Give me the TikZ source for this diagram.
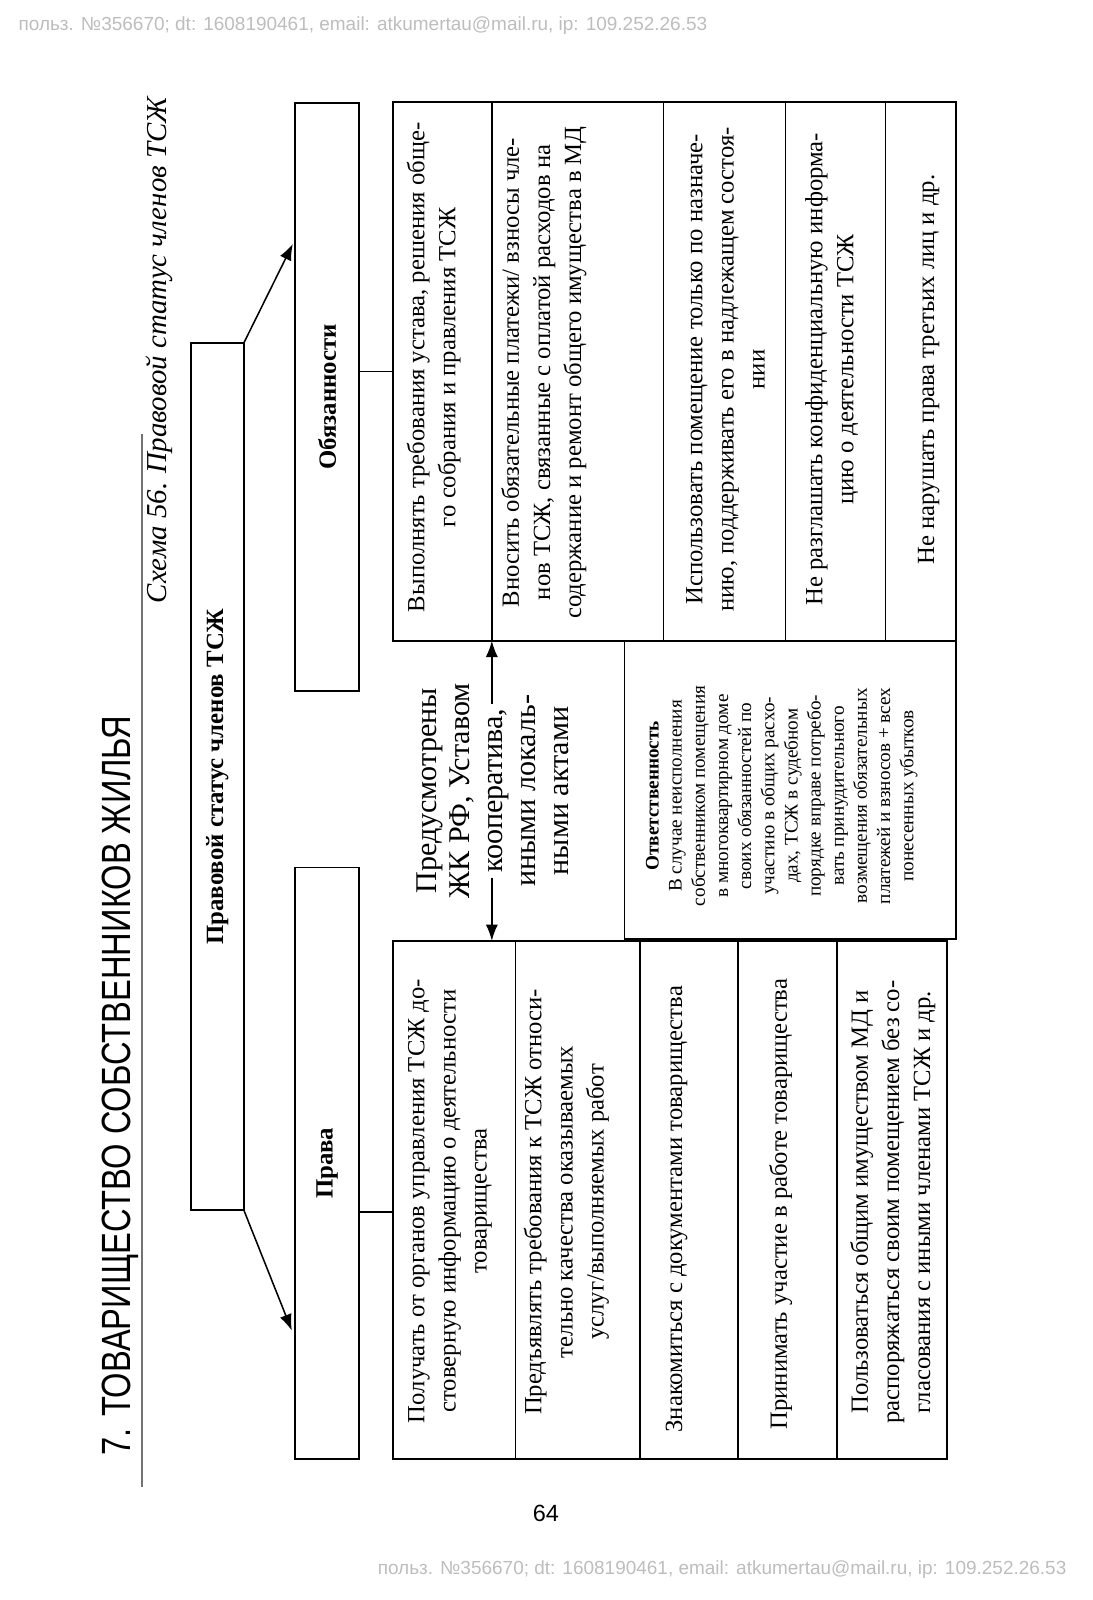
\documentclass[tikz,border=0pt]{standalone}
\usepackage{fontspec}
\setmainfont{Liberation Serif}
\newfontfamily\sansf{Liberation Sans}
\usetikzlibrary{arrows.meta}
\definecolor{wmgray}{gray}{0.74}
\definecolor{ulgray}{gray}{0.45}
\begin{document}
\begin{tikzpicture}[x=1pt,y=-1pt,
  box/.style={draw, line width=1.5pt, inner sep=0pt, outer sep=0pt},
  conn/.style={line width=1.5pt},
  arr/.style={line width=1.5pt, -{Latex[length=16pt,width=12pt]}},
  txt/.style={rotate=90, align=center, inner sep=0pt, font=\fontsize{24.2}{30.5}\selectfont},
  head/.style={rotate=90, align=center, inner sep=0pt, font=\fontsize{24.3}{28}\selectfont\bfseries},
  mid/.style={rotate=90, align=center, inner sep=0pt, font=\fontsize{29.5}{32.5}\selectfont},
  otv/.style={rotate=90, align=center, inner sep=0pt, font=\fontsize{18.8}{22.7}\selectfont},
  wm/.style={anchor=west, inner sep=0pt, text=wmgray, font=\sansf\fontsize{18.6}{21}\selectfont}
]
\useasboundingbox (0,0) rectangle (1071,1568);

% watermarks and page number
\node[wm] (wmtop) at (18,25) {польз. №356670; dt: 1608190461, email: atkumertau@mail.ru, ip: 109.252.26.53};
\node[wm] (wmbot) at (370,1538) {польз. №356670; dt: 1608190461, email: atkumertau@mail.ru, ip: 109.252.26.53};
\node[inner sep=0pt, font=\sansf\fontsize{23}{26}\selectfont] (pnum) at (535,1483) {64};

% title and caption
\node[rotate=90, inner sep=0pt, font=\sansf\fontsize{40}{44}\selectfont] (title) at (118,1064) {\scalebox{0.8}[1]{7. ТОВАРИЩЕСТВО СОБСТВЕННИКОВ ЖИЛЬЯ}};
\coordinate (ulA) at (139,425);
\coordinate (ulB) at (139,1457);
\draw[ulgray, line width=1.5pt] (ulA) -- (ulB);
\node[rotate=90, inner sep=0pt, font=\fontsize{28.3}{32}\selectfont\itshape] (caption) at (156,343) {Схема 56. Правовой статус членов ТСЖ};

% header boxes
\node[box, minimum width=52pt, minimum height=850pt] (status) at (213,761) {};
\node[head] at (status.center) {Правовой статус членов ТСЖ};
\node[box, minimum width=63pt, minimum height=576pt] (obyaz) at (320.5,389) {};
\node[head] at (obyaz.center) {Обязанности};
\node[box, minimum width=63pt, minimum height=580pt] (prava) at (320.5,1140) {};
\node[head] at (prava.center) {Права};

% right table (obligations): x 385 | 482 | 650 | 770 | 868 | 937, y 100..628
\node[box, minimum width=97pt, minimum height=528pt] (o1) at (433.5,364) {};
\node[box, minimum width=168pt, minimum height=528pt] (o2) at (566,364) {};
\node[box, minimum width=120pt, minimum height=528pt] (o3) at (710,364) {};
\node[box, minimum width=98pt, minimum height=528pt] (o4) at (819,364) {};
\node[box, minimum width=69pt, minimum height=528pt] (o5) at (902.5,364) {};
\node[txt] at (425,360) {Выполнять требования устава, решения обще-\\го собрания и правления ТСЖ};
\node[txt] at (533,365) {Вносить обязательные платежи/ взносы чле-\\нов ТСЖ, связанные с оплатой расходов на\\содержание и ремонт общего имущества в МД};
\node[txt] at (711,362) {Использовать помещение только по назначе-\\нию, поддерживать его в надлежащем состоя-\\нии};
\node[txt] at (815,362) {Не разглашать конфиденциальную информа-\\цию о деятельности ТСЖ};
\node[txt] at (910,362) {Не нарушать права третьих лиц и др.};

% left table (rights): x 385 | 505 | 627 | 723 | 820 | 928, y 922..1430
\node[box, minimum width=120pt, minimum height=508pt] (p1) at (445,1176) {};
\node[box, minimum width=122pt, minimum height=508pt] (p2) at (566,1176) {};
\node[box, minimum width=96pt, minimum height=508pt] (p3) at (675,1176) {};
\node[box, minimum width=97pt, minimum height=508pt] (p4) at (771.5,1176) {};
\node[box, minimum width=108pt, minimum height=508pt] (p5) at (874,1176) {};
\node[txt] at (441,1177) {Получать от органов управления ТСЖ до-\\стоверную информацию о деятельности\\товарищества};
\node[txt] at (555,1178) {Предъявлять требования к ТСЖ относи-\\тельно качества оказываемых\\услуг/выполняемых работ};
\node[txt] at (663,1185) {Знакомиться с документами товарищества};
\node[txt] at (765,1180) {Принимать участие в работе товарищества};
\node[txt] at (875,1178) {Пользоваться общим имуществом МД и\\распоряжаться своим помещением без со-\\гласования с иными членами ТСЖ и др.};

% responsibility box
\node[box, minimum width=325pt, minimum height=292pt] (otv) at (774.5,774) {};
\node[otv] at (766,780) {{\bfseries Ответственность}\\В случае неисполнения\\собственником помещения\\в многоквартирном доме\\своих обязанностей по\\участию в общих расхо-\\дах, ТСЖ в судебном\\порядке вправе потребо-\\вать принудительного\\возмещения обязательных\\платежей и взносов + всех\\понесенных убытков};

% middle text
\node[mid] (basis) at (483,775) {Предусмотрены\\ЖК РФ, Уставом\\кооператива,\\иными локаль-\\ными актами};

% connectors
\coordinate (pravaY) at (0,1188);
\draw[conn] (obyaz.east |- o1.west) -- (o1.west);
\draw[conn] (prava.east |- pravaY) -- (p1.west |- pravaY);
\coordinate (tipP) at (286,1304);
\coordinate (tipO) at (287,239);
\draw[arr] (status.south east) -- (tipP);
\draw[arr] (status.north east) -- (tipO);
\coordinate (upS) at (482,690);
\coordinate (dnS) at (482,860);
\draw[arr] (upS) -- (upS |- o1.south);
\draw[arr] (dnS) -- (dnS |- p1.north);
\end{tikzpicture}
\end{document}
